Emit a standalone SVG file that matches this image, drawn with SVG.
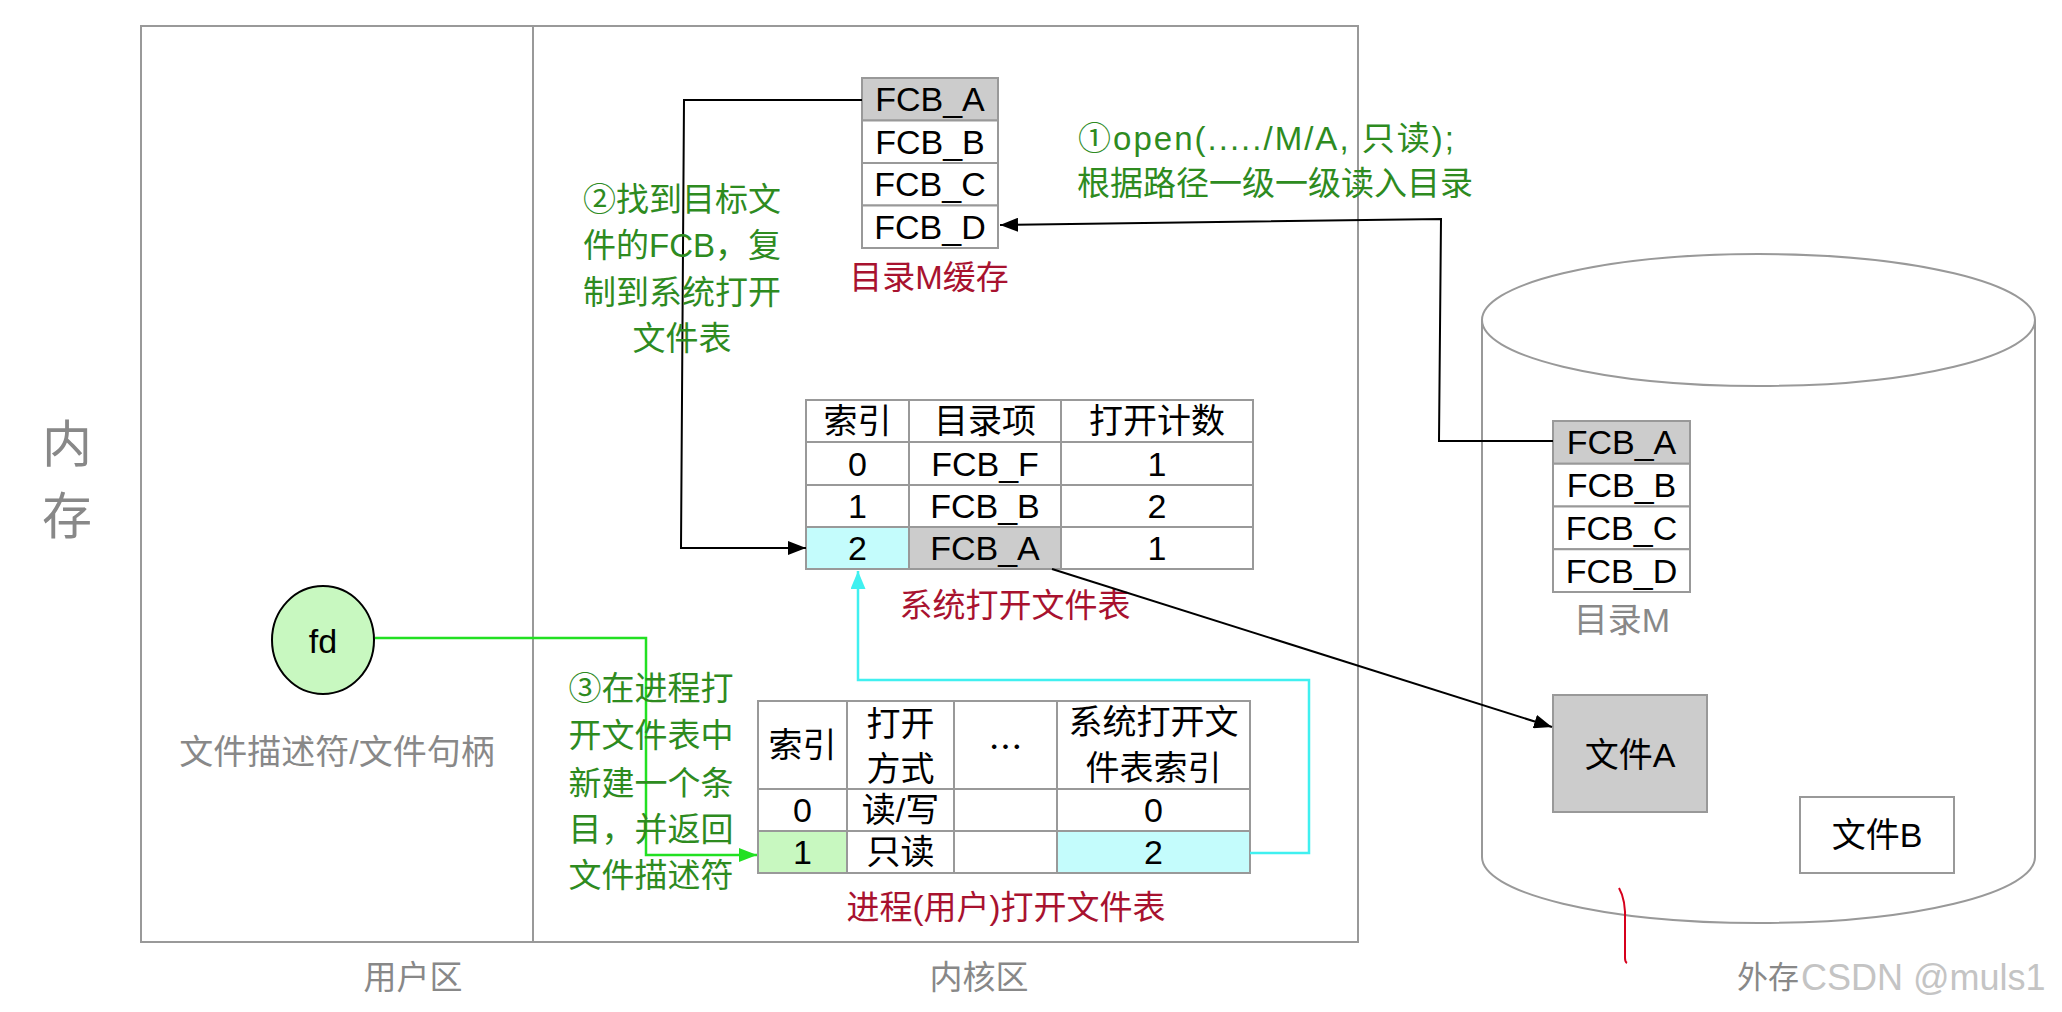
<svg xmlns="http://www.w3.org/2000/svg" width="2062" height="1012" viewBox="0 0 2062 1012">
<style>
text{font-family:"Liberation Sans","Noto Sans CJK SC",sans-serif;dominant-baseline:central}
.c{text-anchor:middle}
.t{font-size:34px;fill:#000}
.g{font-size:33px;fill:#2e8b1f}
.r{font-size:33px;fill:#a8122f}
.gy{font-size:34px;fill:#888}
.cell{fill:#fff;stroke:#999;stroke-width:2}
.sel{fill:#cccccc;stroke:#999;stroke-width:2}
.cy{fill:#c4fcfc;stroke:#999;stroke-width:2}
.gr{fill:#c8f8c0;stroke:#999;stroke-width:2}
.ln{stroke:#999;stroke-width:2;fill:none}
</style>
<defs>
<marker id="ab" markerUnits="userSpaceOnUse" markerWidth="18" markerHeight="14" refX="18" refY="7" orient="auto"><path d="M0,0 L18,7 L0,14 z" fill="#000"/></marker>
<marker id="ag" markerUnits="userSpaceOnUse" markerWidth="18" markerHeight="14" refX="18" refY="7" orient="auto"><path d="M0,0 L18,7 L0,14 z" fill="#22e022"/></marker>
<marker id="ac" markerUnits="userSpaceOnUse" markerWidth="18" markerHeight="15" refX="18" refY="7.5" orient="auto"><path d="M0,0 L18,7.5 L0,15 z" fill="#40f0f0"/></marker>
</defs>
<rect width="2062" height="1012" fill="#fff"/>

<g id="memory">
<rect x="141" y="26" width="1217" height="916" class="ln"/>
<line x1="533" y1="26" x2="533" y2="942" class="ln"/>
<text x="67" y="445" class="c" style="font-size:50px;fill:#888">内</text>
<text x="67" y="517" class="c" style="font-size:50px;fill:#888">存</text>
<text x="413" y="977" class="c" style="font-size:33px;fill:#888">用户区</text>
<text x="979" y="977" class="c" style="font-size:33px;fill:#888">内核区</text>
</g>

<g id="disk">
<path d="M1482,320 V857 A276.5,66 0 0 0 2035,857 V320" class="ln" fill="#fff"/>
<ellipse cx="1758.5" cy="320" rx="276.5" ry="66" fill="#fff" stroke="#999" stroke-width="2"/>
<text x="1768" y="977" class="c" style="font-size:31px;fill:#888">外存</text>
<text x="1801" y="977" style="font-size:36px;fill:#c4c4c4">CSDN @muls1</text>
</g>

<g id="dirM-cache">
<rect x="862" y="78" width="136" height="42.5" class="sel"/>
<rect x="862" y="120.5" width="136" height="42.5" class="cell"/>
<rect x="862" y="163" width="136" height="42.5" class="cell"/>
<rect x="862" y="205.5" width="136" height="42.5" class="cell"/>
<text x="930" y="99" class="c t">FCB_A</text>
<text x="930" y="142" class="c t">FCB_B</text>
<text x="930" y="184" class="c t">FCB_C</text>
<text x="930" y="227" class="c t">FCB_D</text>
<text x="929" y="277" class="c r">目录M缓存</text>
</g>

<g id="dirM-disk">
<rect x="1553" y="421" width="137" height="42.75" class="sel"/>
<rect x="1553" y="463.75" width="137" height="42.75" class="cell"/>
<rect x="1553" y="506.5" width="137" height="42.75" class="cell"/>
<rect x="1553" y="549.25" width="137" height="42.75" class="cell"/>
<text x="1621.5" y="442" class="c t">FCB_A</text>
<text x="1621.5" y="485" class="c t">FCB_B</text>
<text x="1621.5" y="528" class="c t">FCB_C</text>
<text x="1621.5" y="571" class="c t">FCB_D</text>
<text x="1622" y="620" class="c gy">目录M</text>
</g>

<g id="fileA">
<rect x="1553" y="695" width="154" height="117" class="sel"/>
<text x="1630" y="755" class="c t">文件A</text>
</g>
<g id="fileB">
<rect x="1800" y="797" width="154" height="76" class="cell"/>
<text x="1877" y="835" class="c t">文件B</text>
</g>

<g id="sys-table">
<rect x="806" y="400" width="103" height="42" class="cell"/>
<rect x="909" y="400" width="152" height="42" class="cell"/>
<rect x="1061" y="400" width="192" height="42" class="cell"/>
<rect x="806" y="442" width="103" height="43" class="cell"/>
<rect x="909" y="442" width="152" height="43" class="cell"/>
<rect x="1061" y="442" width="192" height="43" class="cell"/>
<rect x="806" y="485" width="103" height="42" class="cell"/>
<rect x="909" y="485" width="152" height="42" class="cell"/>
<rect x="1061" y="485" width="192" height="42" class="cell"/>
<rect x="806" y="527" width="103" height="42" class="cy"/>
<rect x="909" y="527" width="152" height="42" class="sel"/>
<rect x="1061" y="527" width="192" height="42" class="cell"/>
<text x="857.5" y="421" class="c t">索引</text>
<text x="985" y="421" class="c t">目录项</text>
<text x="1157" y="421" class="c t">打开计数</text>
<text x="857.5" y="464" class="c t">0</text>
<text x="985" y="464" class="c t">FCB_F</text>
<text x="1157" y="464" class="c t">1</text>
<text x="857.5" y="506" class="c t">1</text>
<text x="985" y="506" class="c t">FCB_B</text>
<text x="1157" y="506" class="c t">2</text>
<text x="857.5" y="548" class="c t">2</text>
<text x="985" y="548" class="c t">FCB_A</text>
<text x="1157" y="548" class="c t">1</text>
<text x="1015" y="605" class="c r">系统打开文件表</text>
</g>

<g id="proc-table">
<rect x="758" y="701" width="89" height="88" class="cell"/>
<rect x="847" y="701" width="107" height="88" class="cell"/>
<rect x="954" y="701" width="103" height="88" class="cell"/>
<rect x="1057" y="701" width="193" height="88" class="cell"/>
<rect x="758" y="789" width="89" height="42" class="cell"/>
<rect x="847" y="789" width="107" height="42" class="cell"/>
<rect x="954" y="789" width="103" height="42" class="cell"/>
<rect x="1057" y="789" width="193" height="42" class="cell"/>
<rect x="758" y="831" width="89" height="42" class="gr"/>
<rect x="847" y="831" width="107" height="42" class="cell"/>
<rect x="954" y="831" width="103" height="42" class="cell"/>
<rect x="1057" y="831" width="193" height="42" class="cy"/>
<text x="802.5" y="745" class="c t">索引</text>
<text x="900.5" y="724" class="c t">打开</text>
<text x="900.5" y="769" class="c t">方式</text>
<text x="1005.5" y="745" class="c t" style="font-family:'Noto Sans CJK SC',sans-serif">…</text>
<text x="1153.5" y="722" class="c t">系统打开文</text>
<text x="1153.5" y="768" class="c t">件表索引</text>
<text x="802.5" y="810" class="c t">0</text>
<text x="900.5" y="810" class="c t">读/写</text>
<text x="1153.5" y="810" class="c t">0</text>
<text x="802.5" y="852" class="c t">1</text>
<text x="900.5" y="852" class="c t">只读</text>
<text x="1153.5" y="852" class="c t">2</text>
<text x="1006" y="907" class="c r">进程(用户)打开文件表</text>
</g>

<g id="fd">
<ellipse cx="323" cy="640" rx="51" ry="54" fill="#c8f8c0" stroke="#000" stroke-width="2"/>
<text x="323" y="641" class="c t">fd</text>
<text x="337" y="752" class="c gy">文件描述符/文件句柄</text>
</g>

<g id="connectors" fill="none">
<path d="M1553,441 H1439 L1441,219 L1000,225" stroke="#000" stroke-width="2" marker-end="url(#ab)"/>
<path d="M862,100 H684 L681,548 H806" stroke="#000" stroke-width="2" marker-end="url(#ab)"/>
<path d="M1052,569 L1552,727" stroke="#000" stroke-width="2" marker-end="url(#ab)"/>
<path d="M375,638 H646 V855 H757" stroke="#22e022" stroke-width="2.5" marker-end="url(#ag)"/>
<path d="M1250,853 H1309 V680 H858 V571" stroke="#40f0f0" stroke-width="2.5" marker-end="url(#ac)"/>
<path d="M1619,888 Q1626,900 1625,922 L1625,958 Q1625,962 1627,963" stroke="#d6001c" stroke-width="2"/>
</g>

<g id="notes">
<text x="1078" y="138" class="g" textLength="376" lengthAdjust="spacing">①open(...../M/A, 只读);</text>
<text x="1077" y="183" class="g">根据路径一级一级读入目录</text>
<text x="682" y="199" class="c g">②找到目标文</text>
<text x="682" y="245" class="c g">件的FCB，复</text>
<text x="682" y="292" class="c g">制到系统打开</text>
<text x="682" y="338" class="c g">文件表</text>
<text x="651" y="688" class="c g">③在进程打</text>
<text x="651" y="735" class="c g">开文件表中</text>
<text x="651" y="783" class="c g">新建一个条</text>
<text x="651" y="829" class="c g">目，并返回</text>
<text x="651" y="875" class="c g">文件描述符</text>
</g>
</svg>
